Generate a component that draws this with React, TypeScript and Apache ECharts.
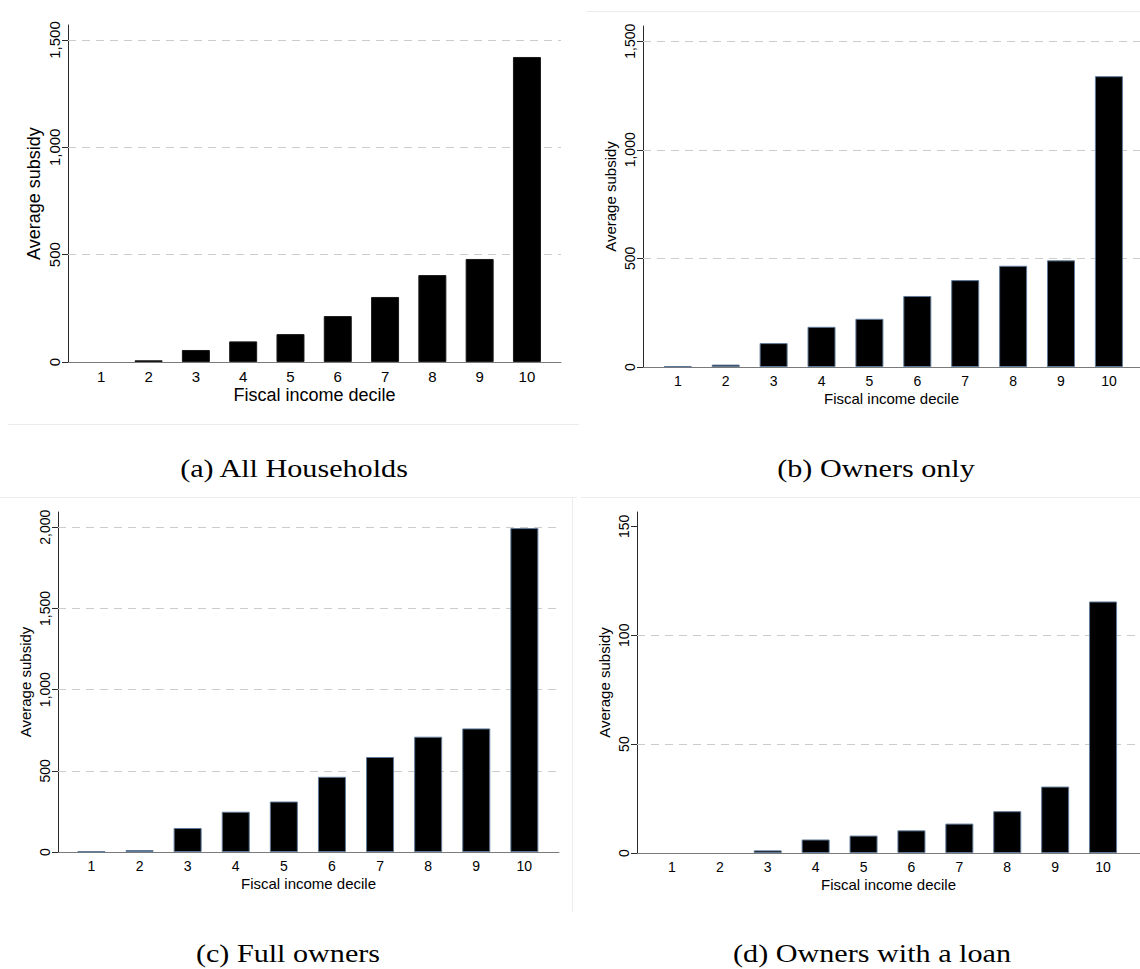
import React, { useEffect, useRef } from "react";
import * as echarts from "echarts";

// ---- data ----
const deciles = [1, 2, 3, 4, 5, 6, 7, 8, 9, 10];
const allHouseholds = [0, 8, 56, 96, 130, 214, 303, 405, 480, 1421];
const ownersOnly = [4, 11, 110, 185, 222, 327, 400, 466, 491, 1339];
const fullOwners = [4, 12, 148, 248, 311, 463, 585, 710, 761, 1995];
const ownersWithLoan = [0, 0, 1.2, 6.2, 8.0, 10.4, 13.5, 19.2, 30.5, 115.5];

const yTicksA = [0, 500, 1000, 1500];
const yTicksB = [0, 500, 1000, 1500];
const yTicksC = [0, 500, 1000, 1500, 2000];
const yTicksD = [0, 50, 100, 150];

const gridLinesA = [500, 1000, 1500];
const gridLinesB = [500, 1000, 1500];
const gridLinesC = [500, 1000, 1500, 2000];
const gridLinesD = [50, 100];

const captions = [
  "(a) All Households",
  "(b) Owners only",
  "(c) Full owners",
  "(d) Owners with a loan",
];
const xTitle = "Fiscal income decile";
const yTitle = "Average subsidy";

// ---- layout (positions / styles only) ----
const panels = [
  { values: allHouseholds, ticks: yTicksA, lines: gridLinesA, interval: 500,
    left: 68, top: 25, width: 493, height: 337, xMin: 0.296, xMax: 10.72, yMax: 1570,
    tickFont: 15, nameFont: 18, border: "#1a1a1a" },
  { values: ownersOnly, ticks: yTicksB, lines: gridLinesB, interval: 500,
    left: 643, top: 26, width: 497, height: 341, xMin: 0.273, xMax: 10.649, yMax: 1570,
    tickFont: 14, nameFont: 15, border: "#5f7a99" },
  { values: fullOwners, ticks: yTicksC, lines: gridLinesC, interval: 500,
    left: 58, top: 512, width: 501, height: 340, xMin: 0.305, xMax: 10.72, yMax: 2094,
    tickFont: 14, nameFont: 15, border: "#5f7a99" },
  { values: ownersWithLoan, ticks: yTicksD, lines: gridLinesD, interval: 50,
    left: 637, top: 512, width: 503, height: 341, xMin: 0.271, xMax: 10.771, yMax: 156.6,
    tickFont: 14, nameFont: 15, border: "#5f7a99" },
];

const captionPos = [
  { x: 294, y: 468 },
  { x: 876, y: 468 },
  { x: 288, y: 953 },
  { x: 872, y: 953 },
];

const fmt = (v: number) => v.toLocaleString("en-US");

export default function App() {
  const ref = useRef<HTMLDivElement>(null);

  useEffect(() => {
    if (!ref.current) return;
    const chart = echarts.init(ref.current, undefined, { renderer: "svg" });

    const grid = panels.map((p) => ({
      left: p.left,
      top: p.top,
      width: p.width,
      height: p.height,
      containLabel: false,
    }));

    const xAxis = panels.map((p, i) => ({
      type: "value",
      gridIndex: i,
      min: p.xMin,
      max: p.xMax,
      name: xTitle,
      nameLocation: "middle",
      nameGap: 24,
      nameTextStyle: { fontFamily: "Liberation Sans", fontSize: p.nameFont, color: "#000" },
      axisLine: { show: true, onZero: false, lineStyle: { color: "#7a7a7a", width: 1 } },
      axisTick: { show: false },
      splitLine: { show: false },
      axisLabel: {
        customValues: deciles,
        fontFamily: "Liberation Sans",
        fontSize: p.tickFont,
        color: "#000",
        margin: 7,
        formatter: (v: number) => String(v),
      },
    }));

    const yAxis = panels.map((p, i) => ({
      type: "value",
      gridIndex: i,
      min: 0,
      max: p.yMax,
      interval: p.interval,
      name: yTitle,
      nameLocation: "middle",
      nameGap: 25,
      nameRotate: 90,
      nameTextStyle: { fontFamily: "Liberation Sans", fontSize: p.nameFont, color: "#000" },
      axisLine: { show: true, lineStyle: { color: "#2a2a2a", width: 1 } },
      axisTick: {
        show: true,
        length: 6,
        customValues: p.ticks,
        lineStyle: { color: "#2a2a2a", width: 1 },
      },
      splitLine: { show: false },
      axisLabel: {
        customValues: p.ticks,
        rotate: 90,
        margin: 6,
        fontFamily: "Liberation Sans",
        fontSize: p.tickFont,
        color: "#000",
        formatter: (v: number) => fmt(v),
      },
    }));

    const series = panels.map((p, i) => ({
      type: "bar",
      xAxisIndex: i,
      yAxisIndex: i,
      barWidth: 28,
      data: deciles.map((d, k) => ({
        value: [d, p.values[k]],
        itemStyle: p.values[k] === 0 ? { borderWidth: 0 } : undefined,
      })),
      itemStyle: { color: "#000", borderColor: p.border, borderWidth: 1 },
      markLine: {
        silent: true,
        symbol: ["none", "none"],
        label: { show: false },
        lineStyle: { color: "#cccccc", type: [8, 6], width: 1 },
        data: p.lines.map((v) => ({ yAxis: v })),
        z: 1,
      },
      z: 3,
    }));

    const borderStyle = { stroke: "#ececec", lineWidth: 1 };
    const graphic: any[] = [
      { type: "line", shape: { x1: 8, y1: 424.5, x2: 579, y2: 424.5 }, style: borderStyle },
      { type: "line", shape: { x1: 586, y1: 11.5, x2: 1140, y2: 11.5 }, style: borderStyle },
      { type: "line", shape: { x1: 0, y1: 497.5, x2: 577, y2: 497.5 }, style: borderStyle },
      { type: "line", shape: { x1: 572.5, y1: 497, x2: 572.5, y2: 912 }, style: borderStyle },
      { type: "line", shape: { x1: 581, y1: 497.5, x2: 1140, y2: 497.5 }, style: borderStyle },
    ];
    captions.forEach((c, i) => {
      graphic.push({
        type: "text",
        x: captionPos[i].x,
        y: captionPos[i].y,
        scaleX: 1.16,
        style: {
          text: c,
          fontFamily: "Liberation Serif",
          fontSize: 26,
          fill: "#000",
          textAlign: "center",
          textVerticalAlign: "middle",
        },
      });
    });

    chart.setOption({
      animation: false,
      backgroundColor: "#fff",
      grid,
      xAxis,
      yAxis,
      series,
      graphic,
    } as any);

    return () => chart.dispose();
  }, []);

  return (
    <div
      ref={ref}
      style={{ position: "absolute", left: 0, top: 0, width: 1140, height: 969, background: "#fff" }}
    />
  );
}
